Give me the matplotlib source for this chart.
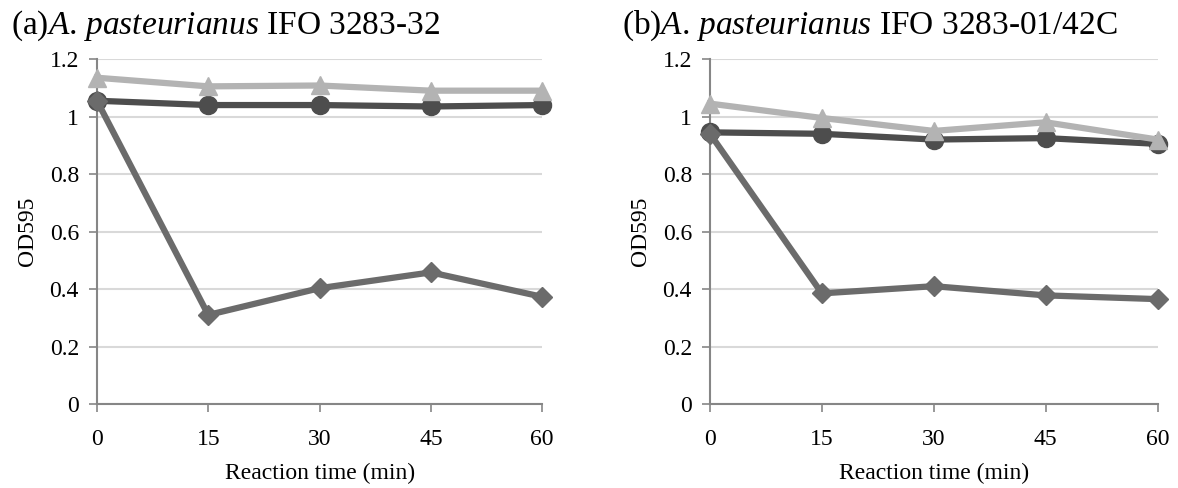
import matplotlib
matplotlib.use("Agg")
import matplotlib.pyplot as plt

plt.rcParams['font.family'] = ['Liberation Serif', 'DejaVu Serif']
plt.rcParams['mathtext.fontset'] = 'custom'
plt.rcParams['mathtext.rm'] = 'Liberation Serif'
plt.rcParams['mathtext.it'] = 'Liberation Serif:italic'

times = [0, 15, 30, 45, 60]

# (a) IFO 3283-32
a_tri = [1.135, 1.105, 1.108, 1.09, 1.09]
a_circ = [1.055, 1.04, 1.04, 1.035, 1.04]
a_diam = [1.055, 0.31, 0.403, 0.458, 0.373]

# (b) IFO 3283-01/42C
b_tri = [1.045, 0.995, 0.95, 0.98, 0.92]
b_circ = [0.945, 0.94, 0.92, 0.925, 0.905]
b_diam = [0.94, 0.385, 0.41, 0.378, 0.365]

yticks = [0, 0.2, 0.4, 0.6, 0.8, 1, 1.2]
ytick_labels = ['0', '0.2', '0.4', '0.6', '0.8', '1', '1.2']

fig = plt.figure(figsize=(11.78, 4.88), dpi=100)
ax1 = fig.add_axes([0.0823, 0.172, 0.378, 0.707])
ax2 = fig.add_axes([0.6027, 0.172, 0.380, 0.707])

panels = [
    (ax1, a_tri, a_circ, a_diam),
    (ax2, b_tri, b_circ, b_diam),
]

for ax, tri, circ, diam in panels:
    ax.plot(times, circ, color='#4d4d4d', lw=4.5, marker='o', ms=13, zorder=3)
    ax.plot(times, tri, color='#b3b3b3', lw=4.5, marker='^', ms=13, zorder=4)
    ax.plot(times, diam, color='#6b6b6b', lw=4.5, marker='D', ms=10, zorder=5)

    ax.set_xlim(0, 60)
    ax.set_ylim(0, 1.2)
    ax.set_xticks(times)
    ax.set_xticklabels([str(t) for t in times])
    ax.set_yticks(yticks)
    ax.set_yticklabels(ytick_labels)
    ax.yaxis.grid(True, color='#d9d9d9', lw=1.5)
    ax.set_axisbelow(True)
    for s in ['top', 'right']:
        ax.spines[s].set_visible(False)
    for s in ['left', 'bottom']:
        ax.spines[s].set_color('#868686')
        ax.spines[s].set_linewidth(1.5)
    ax.tick_params(axis='both', colors='#868686', labelcolor='black',
                   labelsize=17, length=6, width=1.2)
    ax.tick_params(axis='x', pad=12)
    ax.tick_params(axis='y', pad=7)
    ax.set_xlabel('Reaction time (min)', fontsize=17, labelpad=9)
    ax.set_ylabel('OD595', fontsize=17, labelpad=8)
    for line in ax.get_lines():
        line.set_clip_on(False)

fig.text(0.009, 0.93, r'(a)$\mathit{A.\,pasteurianus}$ IFO 3283-32', fontsize=24)
fig.text(0.528, 0.93, r'(b)$\mathit{A.\,pasteurianus}$ IFO 3283-01/42C', fontsize=24)

fig.savefig('out.png', dpi=100)
